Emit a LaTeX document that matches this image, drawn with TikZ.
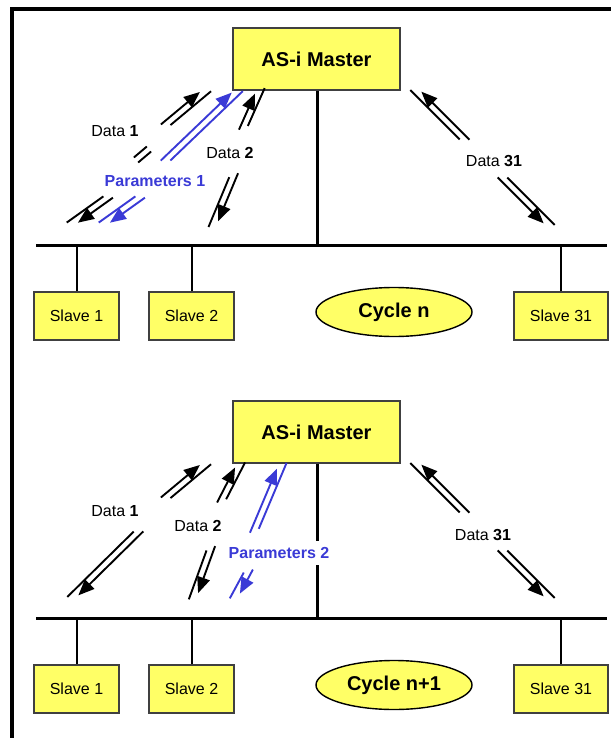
\documentclass[tikz,border=0pt]{standalone}
\usepackage{fontspec}
\setmainfont{Liberation Sans}
\usetikzlibrary{calc,arrows.meta,shapes.geometric}
\definecolor{nodeyellow}{RGB}{255,255,102}
\definecolor{parblue}{RGB}{58,58,214}

\tikzset{
  unitbox/.style={draw=black!75, fill=nodeyellow, line width=1.4pt, inner sep=0pt,
    font=\fontsize{16}{19}\selectfont},
  masterbox/.style={unitbox, minimum width=167pt, minimum height=62pt,
    font=\fontsize{20}{24}\selectfont\bfseries},
  slavebox/.style={unitbox, minimum width=85pt, minimum height=48pt},
  widebox/.style={slavebox, minimum width=94pt},
  cyclebox/.style={ellipse, draw=black, line width=1.4pt, fill=nodeyellow,
    minimum width=156pt, minimum height=49pt, inner sep=0pt,
    font=\fontsize{20}{24}\selectfont\bfseries},
  busline/.style={line width=3pt},
  dropline/.style={line width=2pt},
  frameline/.style={line width=3.5pt},
  pairline/.style={line width=1.9pt},
  tipped/.style={pairline, -{Triangle[length=16pt,width=13pt]}},
  datalabel/.style={font=\fontsize{16}{19}\selectfont, inner sep=1pt},
  parlabel/.style={inner sep=1pt, text=parblue, font=\fontsize{16}{19}\selectfont\bfseries},
}

% pair of parallel strokes, the tip carried by the stroke on side #2 (l/r)
\newcommand\pairarrow[4]{%
  \if l#2\def\sidea{90}\def\sideb{-90}\else\def\sidea{-90}\def\sideb{90}\fi
  \coordinate (pa-t) at ($(#3)!7pt!(#4)$);
  \coordinate (pa-h) at ($(#4)!-9pt!(#3)$);
  \draw[pairline,#1] ($(pa-t)!3.3pt!\sideb:(#4)$) -- ($(pa-h)!3.3pt!\sidea:(#3)$);
  \draw[tipped,#1] ($(#3)!3.3pt!\sidea:(#4)$) -- ($(#4)!3.3pt!\sideb:(#3)$);
}
% pair of parallel strokes without tip
\newcommand\pairplain[3]{%
  \draw[pairline,#1] ($(#2)!3.3pt!90:(#3)$) -- ($(#3)!3.3pt!-90:(#2)$);
  \draw[pairline,#1] ($(#2)!3.3pt!-90:(#3)$) -- ($(#3)!3.3pt!90:(#2)$);
}

\begin{document}
\begin{tikzpicture}[x=1pt,y=-1pt]
\useasboundingbox (0,0) rectangle (611,738);

% frame
\draw[frameline] (12,738) -- (12,9) -- (611,9);

% ---------------- cycle n ----------------
\coordinate (bus1w) at (36,245);
\coordinate (bus1e) at (607,245);
\node[masterbox] (m1) at (316.5,59) {AS-i Master};
\node[slavebox] (s1a) at (76.5,316) {Slave 1};
\node[slavebox] (s1b) at (191.5,316) {Slave 2};
\node[widebox]  (s1c) at (561,316) {Slave 31};
\node[cyclebox] (c1) at (394,312) {Cycle n};

\draw[busline] (bus1w) -- (bus1e);
\draw[busline] (m1.south -| 317,0) -- (bus1w -| 317,0);
\foreach \s in {s1a,s1b,s1c}
  \draw[dropline] (\s.north) -- (\s.north |- bus1w);

\coordinate (a1t) at (163,127);   \coordinate (a1h) at (202,94.5);
\coordinate (a1dt) at (136,160);  \coordinate (a1dh) at (149,149);
\coordinate (a2t) at (111,195);   \coordinate (a2h) at (76,220);
\coordinate (a3t) at (163,163);   \coordinate (a3h) at (234,95);
\coordinate (a4t) at (143,195);   \coordinate (a4h) at (108,220);
\coordinate (a5t) at (242,131);   \coordinate (a5h) at (258,95);
\coordinate (a6t) at (235,172);   \coordinate (a6h) at (215,220);
\coordinate (a7t) at (467,142);   \coordinate (a7h) at (419,94);
\coordinate (a8t) at (500,175);   \coordinate (a8h) at (546,221);

\pairarrow{black}{l}{a1t}{a1h}
\pairplain{black}{a1dt}{a1dh}
\pairarrow{black}{l}{a2t}{a2h}
\pairarrow{parblue}{l}{a3t}{a3h}
\pairarrow{parblue}{l}{a4t}{a4h}
\pairarrow{black}{l}{a5t}{a5h}
\pairarrow{black}{l}{a6t}{a6h}
\pairarrow{black}{r}{a7t}{a7h}
\pairarrow{black}{r}{a8t}{a8h}

\node[datalabel] (l1a) at (115,131) {Data \textbf{1}};
\node[parlabel]  (l1b) at (155,181) {Parameters 1};
\node[datalabel] (l1c) at (230,153) {Data \textbf{2}};
\node[datalabel] (l1d) at (494,161) {Data \textbf{31}};

% ---------------- cycle n+1 ----------------
\coordinate (bus2w) at (36,618);
\coordinate (bus2e) at (607,618);
\node[masterbox] (m2) at (316.5,432) {AS-i Master};
\node[slavebox] (s2a) at (76.5,689) {Slave 1};
\node[slavebox] (s2b) at (191.5,689) {Slave 2};
\node[widebox]  (s2c) at (561,689) {Slave 31};
\node[cyclebox] (c2) at (394,685) {Cycle n+1};

\draw[busline] (bus2w) -- (bus2e);
\draw[busline] (m2.south -| 317,0) -- (bus2w -| 317,0);
\foreach \s in {s2a,s2b,s2c}
  \draw[dropline] (\s.north) -- (\s.north |- bus2w);

\coordinate (b1t) at (163,500);   \coordinate (b1h) at (202,467.5);
\coordinate (b2t) at (141,529);   \coordinate (b2h) at (76,593);
\coordinate (b3t) at (220,504);   \coordinate (b3h) at (238,469);
\coordinate (b4t) at (212,545);   \coordinate (b4h) at (195,592);
\coordinate (b5t) at (253,534);   \coordinate (b5h) at (280,470);
\coordinate (b6t) at (250,568);   \coordinate (b6h) at (237,592);
\coordinate (b7t) at (467,515);   \coordinate (b7h) at (419,467);
\coordinate (b8t) at (500,548);   \coordinate (b8h) at (546,594);

\pairarrow{black}{l}{b1t}{b1h}
\pairarrow{black}{l}{b2t}{b2h}
\pairarrow{black}{l}{b3t}{b3h}
\pairarrow{black}{l}{b4t}{b4h}
\pairarrow{parblue}{l}{b5t}{b5h}
\pairarrow{parblue}{l}{b6t}{b6h}
\pairarrow{black}{r}{b7t}{b7h}
\pairarrow{black}{r}{b8t}{b8h}

\node[datalabel] (l2a) at (115,511) {Data \textbf{1}};
\node[datalabel] (l2b) at (198,526) {Data \textbf{2}};
\node[parlabel, fill=white, inner ysep=6pt] (l2c) at (279,553) {Parameters 2};
\node[datalabel] (l2d) at (483,535) {Data \textbf{31}};
\end{tikzpicture}
\end{document}
